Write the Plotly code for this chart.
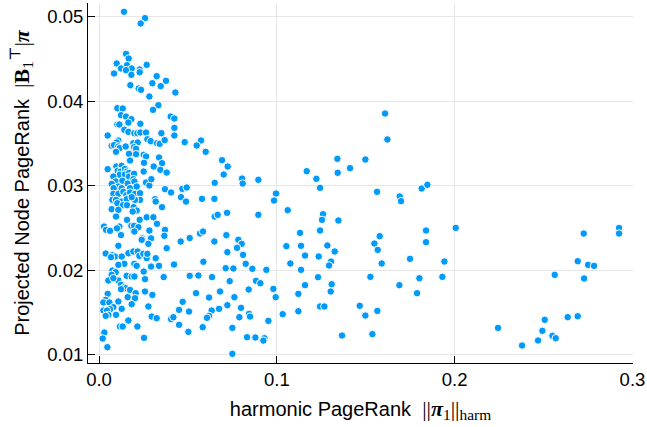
import plotly.graph_objects as go

# harmonic PageRank (x) and projected node PageRank (y)
harmonic_pr = [
    # upper-left cluster
    0.01406, 0.02587, 0.02344, 0.01519, 0.01669, 0.00994, 0.01575, 0.01237, 0.01837, 0.01519,
    0.02287, 0.02681, 0.02287, 0.00844, 0.01819, 0.03243, 0.03768, 0.03000, 0.03468, 0.01762,
    0.02231, 0.02362, 0.04293, 0.02831, 0.03337, 0.01031, 0.01331, 0.03037, 0.01237, 0.01519,
    0.01819, 0.04031, 0.04237,
    # 0.024 - 0.038 band
    0.01031, 0.01143, 0.01650, 0.02325, 0.04237, 0.01425, 0.01650, 0.01987, 0.02156, 0.02325,
    0.02643, 0.03506, 0.04237, 0.00487, 0.01087, 0.00994, 0.02718, 0.02906, 0.03262, 0.03412,
    0.03693, 0.04818, 0.00712, 0.00844, 0.01087, 0.01162, 0.01500, 0.01931, 0.02175, 0.01969,
    0.02081, 0.00956, 0.02081, 0.01687, 0.02512, 0.02643, 0.03375, 0.01744, 0.02531, 0.03543,
    0.03075, 0.03449, 0.03806, 0.00487, 0.00975, 0.01275, 0.01050, 0.01219, 0.01462, 0.01575,
    0.01162, 0.01462, 0.01687, 0.01687, 0.01969, 0.02512, 0.00806, 0.00937, 0.00712, 0.01312,
    0.01612, 0.01931, 0.02025, 0.01987, 0.01087, 0.00825, 0.01275, 0.01744, 0.02119, 0.02643,
    0.02831, 0.02943, 0.03712, 0.04050, 0.04687, 0.04931, 0.04612, 0.04893, 0.00806, 0.01087,
    0.01368, 0.01537, 0.01744, 0.02025, 0.02306, 0.02306, 0.02025, 0.00750, 0.00956, 0.01275,
    0.01556, 0.01837, 0.01031, 0.01350, 0.01575, 0.00712, 0.01087, 0.01950, 0.02119, 0.01894,
    0.03150, 0.03187, 0.03543, 0.00956, 0.01575, 0.02681, 0.03056, 0.02287, 0.03262, 0.01819,
    0.01969, 0.02212, 0.02831, 0.03712, 0.03674, 0.00281, 0.00394, 0.00619, 0.01143, 0.01012,
    0.01237, 0.01987, 0.02418, 0.02925, 0.05100,
    # lower-left cluster
    0.01087, 0.02400, 0.02775, 0.03806, 0.04593, 0.00375, 0.00750, 0.00900, 0.00675, 0.01275,
    0.01650, 0.01931, 0.02175, 0.02268, 0.02493, 0.02681, 0.02718, 0.03187, 0.01987, 0.02119,
    0.01425, 0.01087, 0.02925, 0.03375, 0.04218, 0.00750, 0.00937, 0.00712, 0.00525, 0.01087,
    0.00806, 0.01556, 0.01837, 0.01987, 0.02512, 0.02587, 0.03637, 0.05100, 0.01237, 0.01425,
    0.01500, 0.01237, 0.01744, 0.02587, 0.02062, 0.00487, 0.00375, 0.00244, 0.00581, 0.01087,
    0.01612, 0.02025, 0.03000, 0.01837, 0.02775, 0.00806, 0.00619, 0.00244, 0.01275, 0.00450,
    0.00525, 0.00956, 0.00375, 0.04706, 0.04500, 0.05062, 0.02962, 0.03243, 0.04050, 0.04181,
    0.04500, 0.01650, 0.01181, 0.01331, 0.02156, 0.05024, 0.00300, 0.00206, 0.02531, 0.00469,
    # 0.055 - 0.115, upper part
    0.05737, 0.05493, 0.06000, 0.06918, 0.07237, 0.07012, 0.06506, 0.08043, 0.08080, 0.08961,
    0.09955, 0.09843, 0.10611, 0.05793, 0.06487, 0.06506, 0.06674, 0.07199, 0.08961, 0.05681,
    0.05849, 0.07162, 0.11305,
    # 0.055 - 0.115, lower part
    0.06487, 0.07836, 0.08024, 0.07218, 0.07762, 0.08099, 0.05868, 0.08249, 0.07124, 0.07555,
    0.08624, 0.09411, 0.10536, 0.11361, 0.10761, 0.11361, 0.11211, 0.05587, 0.06355, 0.07349,
    0.08830, 0.09074, 0.05456, 0.06187, 0.06805, 0.07612, 0.08418, 0.09805, 0.09936, 0.07218,
    0.07987, 0.06337, 0.06749, 0.06187, 0.06074, 0.07893, 0.08436, 0.08493, 0.09524, 0.10330,
    0.11211, 0.05831, 0.07499, 0.08324, 0.08793, 0.09299, 0.09243, 0.07499,
    # 0.115 - 0.19, upper part
    0.16086, 0.16217, 0.13405, 0.14979, 0.14117, 0.13423, 0.11680, 0.12223, 0.12430, 0.15636,
    0.16911, 0.16985, 0.18148, 0.18466, 0.12598,
    # 0.115 - 0.20, lower part
    0.12542, 0.13461, 0.12430, 0.18392, 0.20060, 0.15786, 0.15486, 0.18392, 0.15673, 0.12842,
    0.13255, 0.12355, 0.13048, 0.12936, 0.11586, 0.15898, 0.17492, 0.19423, 0.12317, 0.11586,
    0.13086, 0.13030, 0.15261, 0.16892, 0.18017, 0.19310, 0.17885, 0.12430, 0.12673, 0.14661,
    0.14979, 0.15654, 0.13667, 0.15373,
    # far right
    0.29246, 0.29246, 0.27259, 0.26922, 0.27503, 0.27840, 0.25628, 0.27278, 0.25066, 0.26360,
    0.26922, 0.22441, 0.24934, 0.25497, 0.25684, 0.24691, 0.23791,
]

projected_pr = [
    0.05056, 0.04981, 0.04918, 0.04559, 0.04504, 0.04445, 0.04425, 0.04386, 0.04386, 0.04366,
    0.04374, 0.04429, 0.04342, 0.04327, 0.04311, 0.04295, 0.04240, 0.04212, 0.04177, 0.04189,
    0.04149, 0.04134, 0.04102, 0.04055, 0.03952, 0.03917, 0.03913, 0.03897, 0.03834, 0.03818,
    0.03787, 0.03818, 0.03795,
    0.03724, 0.03724, 0.03747, 0.03732, 0.03684, 0.03661, 0.03637, 0.03621, 0.03621, 0.03629,
    0.03629, 0.03621, 0.03594, 0.03594, 0.03535, 0.03511, 0.03550, 0.03527, 0.03503, 0.03495,
    0.03539, 0.03515, 0.03472, 0.03480, 0.03464, 0.03444, 0.03464, 0.03503, 0.03511, 0.03456,
    0.03436, 0.03401, 0.03373, 0.03377, 0.03365, 0.03346, 0.03334, 0.03298, 0.03271, 0.03267,
    0.03227, 0.03188, 0.03156, 0.03196, 0.03227, 0.03235, 0.03176, 0.03168, 0.03199, 0.03168,
    0.03129, 0.03133, 0.03150, 0.03109, 0.03141, 0.03168, 0.03109, 0.03050, 0.03022, 0.03058,
    0.03026, 0.03078, 0.03011, 0.03050, 0.02991, 0.02971, 0.02971, 0.02971, 0.02991, 0.03038,
    0.03003, 0.03078, 0.02959, 0.02920, 0.02963, 0.02979, 0.02865, 0.02813, 0.02904, 0.02904,
    0.02928, 0.02890, 0.02920, 0.02904, 0.02912, 0.02833, 0.02833, 0.02833, 0.02833, 0.02813,
    0.02841, 0.02865, 0.02794, 0.02770, 0.02770, 0.02723, 0.02715, 0.02747, 0.02707, 0.02695,
    0.02841, 0.02813, 0.02747, 0.02636, 0.02597, 0.02628, 0.02628, 0.02597, 0.02550, 0.02526,
    0.02526, 0.02510, 0.02471, 0.02479, 0.02408, 0.02518, 0.02479, 0.02467, 0.02518, 0.02496,
    0.02417, 0.02459, 0.02378, 0.02378, 0.02382,
    0.02290, 0.02361, 0.02313, 0.02262, 0.02341, 0.02199, 0.02179, 0.02163, 0.02156, 0.02163,
    0.02203, 0.02223, 0.02223, 0.02171, 0.02195, 0.02144, 0.02195, 0.02144, 0.02077, 0.02053,
    0.02077, 0.02065, 0.02045, 0.02053, 0.02069, 0.01998, 0.01978, 0.01947, 0.01880, 0.01880,
    0.01907, 0.01935, 0.01927, 0.01927, 0.01986, 0.01896, 0.01920, 0.01935, 0.01829, 0.01801,
    0.01789, 0.01777, 0.01769, 0.01750, 0.01730, 0.01722, 0.01651, 0.01620, 0.01620, 0.01632,
    0.01683, 0.01671, 0.01710, 0.01600, 0.01573, 0.01565, 0.01541, 0.01525, 0.01545, 0.01525,
    0.01474, 0.01474, 0.01462, 0.01628, 0.01533, 0.01513, 0.01454, 0.01435, 0.01423, 0.01446,
    0.01356, 0.01407, 0.01336, 0.01336, 0.01336, 0.01273, 0.01265, 0.01194, 0.01202, 0.01092,
    0.03535, 0.03476, 0.03401, 0.03302, 0.03227, 0.03133, 0.03034, 0.03085, 0.03026, 0.03070,
    0.02908, 0.02825, 0.02711, 0.02845, 0.02845, 0.02636, 0.02656, 0.02680, 0.02656, 0.02435,
    0.02459, 0.02416, 0.02443,
    0.02341, 0.02361, 0.02313, 0.02215, 0.02266, 0.02183, 0.02101, 0.02077, 0.02026, 0.02022,
    0.02018, 0.02006, 0.02286, 0.02290, 0.02081, 0.02006, 0.01722, 0.01939, 0.01920, 0.01872,
    0.01876, 0.01848, 0.01730, 0.01679, 0.01750, 0.01683, 0.01773, 0.01781, 0.01683, 0.01588,
    0.01557, 0.01525, 0.01545, 0.01462, 0.01439, 0.01446, 0.01486, 0.01454, 0.01403, 0.01482,
    0.01517, 0.01328, 0.01320, 0.01210, 0.01206, 0.01198, 0.01170, 0.01013,
    0.03854, 0.03547, 0.03318, 0.03310, 0.03208, 0.03153, 0.03172, 0.03082, 0.02975, 0.02928,
    0.02873, 0.02818, 0.02967, 0.03011, 0.02664,
    0.02597, 0.02589, 0.02471, 0.02471, 0.02502, 0.02404, 0.02317, 0.02333, 0.02242, 0.02294,
    0.02223, 0.02164, 0.02104, 0.02057, 0.02175, 0.02081, 0.02136, 0.02104, 0.01919, 0.01825,
    0.01836, 0.01750, 0.01923, 0.01825, 0.01907, 0.01923, 0.01730, 0.01573, 0.01573, 0.01581,
    0.01466, 0.01521, 0.01230, 0.01246,
    0.02502, 0.02435, 0.02435, 0.02108, 0.02065, 0.02053, 0.01947, 0.01904, 0.01415, 0.01447,
    0.01458, 0.01320, 0.01285, 0.01226, 0.01198, 0.01171, 0.01112,
]

x_ticks = [0.0, 0.1, 0.2, 0.3]
x_ticklabels = ["0.0", "0.1", "0.2", "0.3"]
y_ticks = [0.01, 0.02, 0.03, 0.04, 0.05]
y_ticklabels = ["0.01", "0.02", "0.03", "0.04", "0.05"]

SERIF = "Liberation Serif, DejaVu Serif, serif"

x_title = ("harmonic PageRank  <span style='font-family:" + SERIF + ";font-size:22px'>"
           "||<b><i>π</i></b><sub>1</sub>||<sub>harm</sub></span>")
y_title = ("Projected Node PageRank  <span style='font-family:" + SERIF + ";font-size:22px'>"
           "|<b>B</b><sub>1</sub><sup>⊤</sup>|<b><i>π</i></b></span>")

fig = go.Figure(
    go.Scatter(
        x=harmonic_pr,
        y=projected_pr,
        mode="markers",
        marker=dict(color="#009AFA", size=7.5, line=dict(color="white", width=1)),
        showlegend=False,
    )
)

axis_common = dict(
    showgrid=True,
    gridcolor="#e6e6e6",
    gridwidth=1,
    zeroline=False,
    showline=True,
    linecolor="black",
    linewidth=1,
    mirror=False,
    ticks="inside",
    ticklen=7,
    tickwidth=1,
    tickcolor="black",
    tickfont=dict(size=18.5, color="black"),
)

fig.update_xaxes(
    range=[-0.0062, 0.3003],
    tickvals=x_ticks,
    ticktext=x_ticklabels,
    title=dict(text=x_title, font=dict(size=20, color="black"), standoff=12),
    **axis_common,
)
fig.update_yaxes(
    range=[0.00905, 0.0516],
    tickvals=y_ticks,
    ticktext=y_ticklabels,
    title=dict(text=y_title, font=dict(size=20, color="black"), standoff=12),
    **axis_common,
)

fig.update_layout(
    width=647,
    height=427,
    margin=dict(l=88, r=14, t=3, b=64),
    plot_bgcolor="white",
    paper_bgcolor="white",
    font=dict(family="Liberation Sans, Arial, sans-serif", color="black"),
)

fig.write_html("out.html")
